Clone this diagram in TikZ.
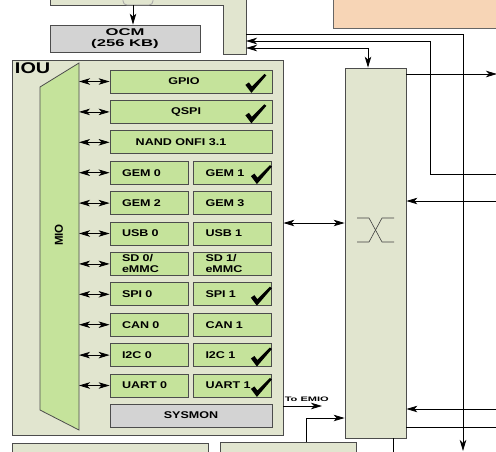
\documentclass[tikz,border=0pt]{standalone}
\usepackage{fontspec}
\setsansfont{Liberation Sans}[FakeStretch=1.28]
\newfontfamily\widefont{Liberation Sans}[FakeStretch=1.7]
\newfontfamily\plainfont{Liberation Sans}
\usetikzlibrary{arrows.meta}
\definecolor{iougreen}{HTML}{E1E5CF}
\definecolor{blkgreen}{HTML}{C5E39B}
\definecolor{blkgray}{HTML}{D3D3D3}
\definecolor{peach}{HTML}{F7D5B6}
\tikzset{
  blk/.style={draw=black!70, fill=blkgreen, minimum height=23pt, inner sep=0pt, align=left,
    font=\sffamily\bfseries\fontsize{9.8}{11}\selectfont},
  full/.style={blk, minimum width=162pt},
  half/.style={blk, minimum width=78pt, text width=54pt},
  chk/.pic={\fill (0,1.5) -- (-6,-6.5) -- (-2.5,-9) -- (0.5,-5) -- (13,-17.5) -- (15,-16) -- cycle;}
}
\begin{document}
\begin{tikzpicture}[x=1pt,y=-1pt,line width=0.8pt,>={Stealth[length=11pt,width=6.5pt,inset=3pt]}]
\useasboundingbox (0,0) rectangle (496,451);
\clip (0,0) rectangle (496,451);
% blocks at the top
\filldraw[fill=iougreen, draw=black!70] (50,-5) -- (50,5) -- (223,5) -- (223,54) -- (246,54) -- (246,-5);
\draw[black!35, rounded corners=4pt] (123,-5) -- (123,5) -- (153,5) -- (153,-5);
\filldraw[fill=peach, draw=black!60] (333,-5) rectangle (500,28);
\coordinate (apu) at (133,5);
\coordinate (apuR) at (246,0);
\node[draw=black!70, fill=blkgray, minimum width=150pt, minimum height=27pt, inner sep=0pt, align=center,
  font=\widefont\bfseries\fontsize{9.8}{10.5}\selectfont] (ocm) at (125,38.5) {OCM\\(256 KB)};
\draw[->] (apu) -- (apu |- ocm.north);

% IOU
\node[draw=black!70, fill=iougreen, minimum width=271pt, minimum height=375pt] (iou) at (147.5,247.5) {};
\node[anchor=north west, font=\sffamily\bfseries\fontsize{15.5}{15.5}\selectfont, inner sep=1pt] (ioulbl) at ([xshift=2pt,yshift=-2pt]iou.north west) {IOU};
\filldraw[fill=blkgreen, draw=black!70] (40,87) -- (79,63) -- (79,430) -- (40,410) -- cycle;
\node[rotate=90, font=\plainfont\bfseries\fontsize{11.5}{12}\selectfont] (mio) at (59,235) {MIO};
\coordinate (mioR) at (79,0);

\foreach \i/\nm/\txt/\sh/\ck in {0/gpio/GPIO/14/1,1/qspi/QSPI/10/1,2/nand/NAND ONFI 3.1/20/0}{
  \node[full] (\nm) at (191,81.5+30.4*\i) {\txt\hspace*{\sh pt}};
  \ifnum\ck=1 \pic at ([xshift=-21pt,yshift=2pt]\nm.south east) {chk};\fi
  \draw[<->] (mioR |- \nm.west) -- (\nm.west);
}
\foreach \i/\l/\r/\ltxt/\rtxt/\ck in {3/gem0/gem1/GEM 0/GEM 1/1, 4/gem2/gem3/GEM 2/GEM 3/0,
  5/usb0/usb1/USB 0/USB 1/0, 6/sd0/sd1/{SD 0/\\eMMC}/{SD 1/\\eMMC}/0, 7/spi0/spi1/SPI 0/SPI 1/1,
  8/can0/can1/CAN 0/CAN 1/0, 9/iic0/iic1/I2C 0/I2C 1/1, 10/uart0/uart1/UART 0/UART 1/1}{
  \node[half] (\l) at (149,81.5+30.4*\i) {\ltxt};
  \node[half] (\r) at (232.5,81.5+30.4*\i) {\rtxt};
  \ifnum\ck=1 \pic at ([xshift=-15pt,yshift=2pt]\r.south east) {chk};\fi
  \draw[<->] (mioR |- \l.west) -- (\l.west);
}
\node[full, fill=blkgray, align=center] (sysmon) at (191,415.5) {SYSMON};

% switch
\node[draw=black!70, fill=iougreen, minimum width=61pt, minimum height=370pt] (xbar) at (375.5,253) {};
\draw[black!75, line width=0.6pt] (357,218) -- (369,218) -- (382,242) -- (394,242);
\draw[black!75, line width=0.6pt] (357,242) -- (369,242) -- (382,218) -- (394,218);
\draw[<->] (iou.east |- 0,223) -- (xbar.west |- 0,223);

% lines at the top
\draw[->] (apuR |- 0,34) -- (463,34) -- (463,451);
\draw[->] (500,174) -- (430,174) -- (430,41) -- (apuR |- 0,41);
\draw[<->] (apuR |- 0,48) -- (368,48) -- (368,0 |- xbar.north);

% lines on the right
\draw[->] (xbar.east |- 0,74) -- (497,74);
\draw[->] (500,201) -- (xbar.east |- 0,201);
\draw[->] (500,409) -- (xbar.east |- 0,409);
\draw (xbar.east |- 0,427) -- (500,427);
\draw (393,0 |- xbar.south) -- (393,455);

% bottom
\node[draw=black!70, fill=iougreen, minimum width=196pt, minimum height=20pt, anchor=north west] (lowl) at (12,443) {};
\node[draw=black!70, fill=iougreen, minimum width=136pt, minimum height=20pt, anchor=north west] (lowr) at (220,442) {};
\node[anchor=south west, font=\widefont\bfseries\fontsize{6.5}{7}\selectfont, inner sep=1pt] (emio) at (iou.east |- 0,403) {To EMIO};
\draw[->] (iou.east |- 0,406) -- (322,406);
\draw[->] (306,0 |- lowr.north) -- (306,418) -- (xbar.west |- 0,418);
\end{tikzpicture}
\end{document}
